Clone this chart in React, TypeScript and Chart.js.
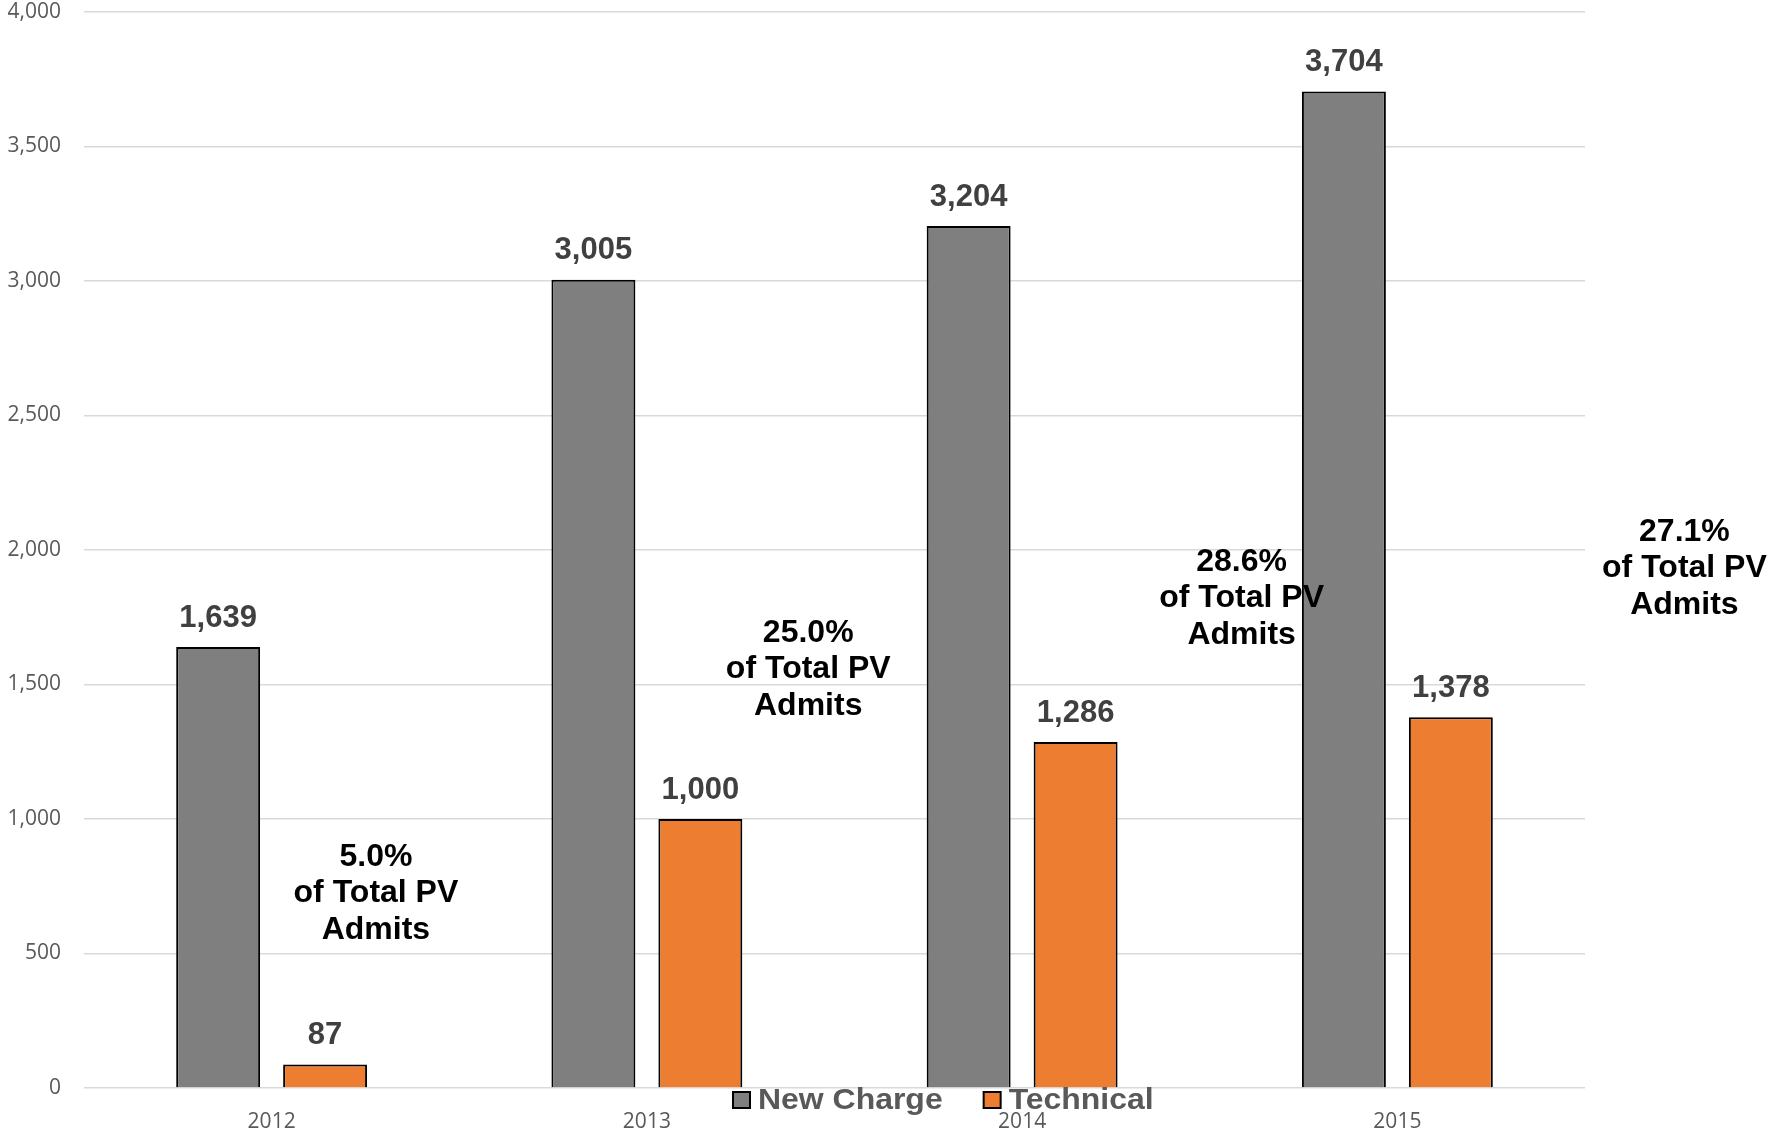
import React, { useEffect, useRef } from "react";
import { Chart, registerables } from "chart.js";

Chart.register(...registerables);

const categories = ["2012", "2013", "2014", "2015"];
const newChargeValues = [1639, 3005, 3204, 3704];
const technicalValues = [87, 1000, 1286, 1378];
const seriesNames = ["New Charge", "Technical"];
const shareTexts = ["5.0%", "25.0%", "28.6%", "27.1%"];
// anchor of each share note, in category-axis units and value-axis units (middle line)
const shareAnchorCat = [0.278, 1.43, 2.585, 3.765];
const shareAnchorVal = [725, 1558, 1822, 1933];
const yMin = 0;
const yMax = 4000;
const yStep = 500;

const GRAY = "#7f7f7f";
const ORANGE = "#ed7d31";

const valueLabels = {
  id: "valueLabels",
  afterDatasetsDraw(chart: any) {
    const ctx = chart.ctx;
    ctx.save();
    ctx.font = 'bold 31px "Liberation Sans", Arial, sans-serif';
    ctx.fillStyle = "#404040";
    ctx.textAlign = "center";
    ctx.textBaseline = "middle";
    chart.data.datasets.forEach((ds: any, i: number) => {
      const meta = chart.getDatasetMeta(i);
      meta.data.forEach((bar: any, j: number) => {
        ctx.fillText(Number(ds.data[j]).toLocaleString("en-US"), bar.x, bar.y - 29);
      });
    });
    ctx.restore();
  },
};

const shareNotes = {
  id: "shareNotes",
  afterDraw(chart: any) {
    const ctx = chart.ctx;
    const xs = chart.scales.x;
    const ys = chart.scales.y;
    ctx.save();
    ctx.font = 'bold 32px "Liberation Sans", Arial, sans-serif';
    ctx.fillStyle = "#000000";
    ctx.textAlign = "center";
    ctx.textBaseline = "middle";
    shareTexts.forEach((t, i) => {
      const x = xs.getPixelForValue(shareAnchorCat[i]);
      const y = ys.getPixelForValue(shareAnchorVal[i]);
      ctx.fillText(t, x, y - 36);
      ctx.fillText("of Total PV", x, y);
      ctx.fillText("Admits", x, y + 37);
    });
    ctx.restore();
  },
};

const bottomLegend = {
  id: "bottomLegend",
  afterDraw(chart: any) {
    const ctx = chart.ctx;
    const area = chart.chartArea;
    ctx.save();
    ctx.font = 'bold 30px "Liberation Sans", Arial, sans-serif';
    ctx.textBaseline = "middle";
    ctx.textAlign = "left";
    const colors = [GRAY, ORANGE];
    const stretch = 1.065;
    let x = area.left + 649;
    const y = area.bottom + 12;
    seriesNames.forEach((name, i) => {
      ctx.fillStyle = colors[i];
      ctx.fillRect(x, y - 8, 17, 16);
      ctx.strokeStyle = "#000000";
      ctx.lineWidth = 2;
      ctx.strokeRect(x, y - 8, 17, 16);
      ctx.fillStyle = "#595959";
      const w = ctx.measureText(name).width * stretch;
      ctx.save();
      ctx.translate(x + 25, y + 1);
      ctx.scale(stretch, 1);
      ctx.fillText(name, 0, 0);
      ctx.restore();
      x += 25 + w + 41;
    });
    ctx.restore();
  },
};

export default function App() {
  const ref = useRef<HTMLCanvasElement | null>(null);
  useEffect(() => {
    document.body.style.margin = "0";
    const canvas = ref.current;
    if (!canvas) return;
    const chart = new Chart(canvas, {
      type: "bar",
      data: {
        labels: categories,
        datasets: [
          {
            label: seriesNames[0],
            data: newChargeValues,
            backgroundColor: GRAY,
            borderColor: "#000000",
            borderWidth: 2,
            categoryPercentage: 0.57,
            barPercentage: 0.785,
          },
          {
            label: seriesNames[1],
            data: technicalValues,
            backgroundColor: ORANGE,
            borderColor: "#000000",
            borderWidth: 2,
            categoryPercentage: 0.57,
            barPercentage: 0.785,
          },
        ],
      },
      options: {
        animation: false,
        responsive: true,
        maintainAspectRatio: false,
        layout: { padding: { top: 12, right: 186, left: 0, bottom: 0 } },
        plugins: {
          legend: { display: false },
          tooltip: { enabled: false },
        },
        scales: {
          x: {
            grid: { display: false },
            border: { display: false },
            ticks: {
              font: { family: '"Open Sans", sans-serif', size: 21 },
              color: "#595959",
              padding: 13,
            },
            afterFit(scale: any) {
              scale.height = 45;
            },
          },
          y: {
            min: yMin,
            max: yMax,
            border: { display: false },
            grid: { color: "#d9d9d9", lineWidth: 1.5, drawTicks: false },
            ticks: {
              stepSize: yStep,
              font: { family: '"Open Sans", sans-serif', size: 21 },
              color: "#595959",
              padding: 23,
              callback: (v: any) => Number(v).toLocaleString("en-US"),
            },
            afterFit(scale: any) {
              scale.width = 84;
              scale.paddingTop = 0;
              scale.paddingBottom = 0;
            },
          },
        },
      },
      plugins: [valueLabels, shareNotes, bottomLegend],
    });
    return () => chart.destroy();
  }, []);
  return (
    <div style={{ position: "fixed", left: 0, top: 0, width: 1771, height: 1133, background: "#fff" }}>
      <canvas ref={ref} />
    </div>
  );
}
